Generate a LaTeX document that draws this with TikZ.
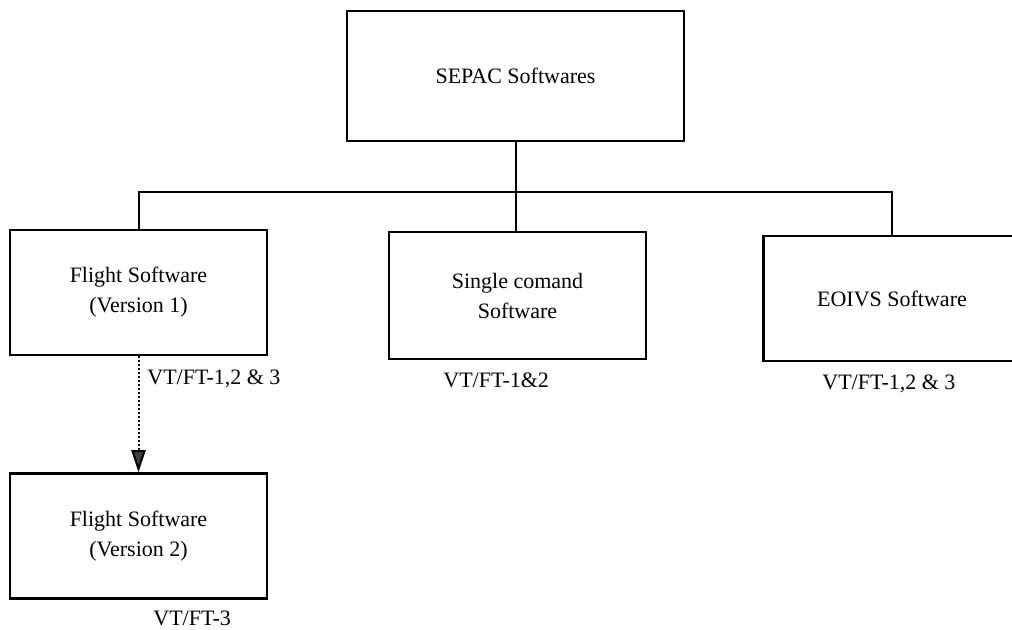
\documentclass[tikz,border=0pt]{standalone}
\usepackage{fontspec}
\setmainfont{Liberation Serif}
\usetikzlibrary{arrows.meta}
\tikzset{
	swbox/.style={draw, line width=1.3pt, align=center, inner sep=0pt, minimum width=128.5pt, minimum height=62.5pt, font=\fontsize{11}{15}\selectfont},
	vtlabel/.style={anchor=west, inner sep=0pt, font=\fontsize{11}{14}\selectfont},
	link/.style={line width=1pt}
}

\begin{document}
\begin{tikzpicture}[x=0.5pt, y=-0.5pt]
				\useasboundingbox (0,0) rectangle (1012,630);
				\clip (0,0) rectangle (1012,630);
				
				\node[swbox, minimum width=168.5pt, minimum height=65pt] (sepac) at (515.5, 76) {SEPAC Softwares};
				
				\node[swbox] (flight1) at (138.5, 292.5) {Flight Software\\(Version 1)};
				\node[swbox, minimum height=63.5pt] (single) at (517.5, 295.5) {Single comand\\Software};
				\node[swbox] (eoivs) at (892, 298.5) {EOIVS Software};
				\node[swbox] (flight2) at (138.5, 536) {Flight Software\\(Version 2)};
				
				\coordinate (bus) at (515, 192);
				\draw[link] (sepac.south) -- (sepac.south |- single.north);
				\draw[link] (flight1.north) -- (flight1.north |- bus) -- (eoivs.north |- bus) -- (eoivs.north);
				\draw[link, densely dotted, -{Triangle[width=7pt, length=11pt, fill=black!75]}] (flight1.south) -- (flight2.north);
				
				\node[vtlabel] (vt1) at (147, 379) {VT/FT-1,2 \& 3};
				\node[vtlabel] (vt2) at (443, 380) {VT/FT-1\&2};
				\node[vtlabel] (vt3) at (822, 384) {VT/FT-1,2 \& 3};
				\node[vtlabel] (vt4) at (153, 618) {VT/FT-3};
			\end{tikzpicture}
\end{document}
